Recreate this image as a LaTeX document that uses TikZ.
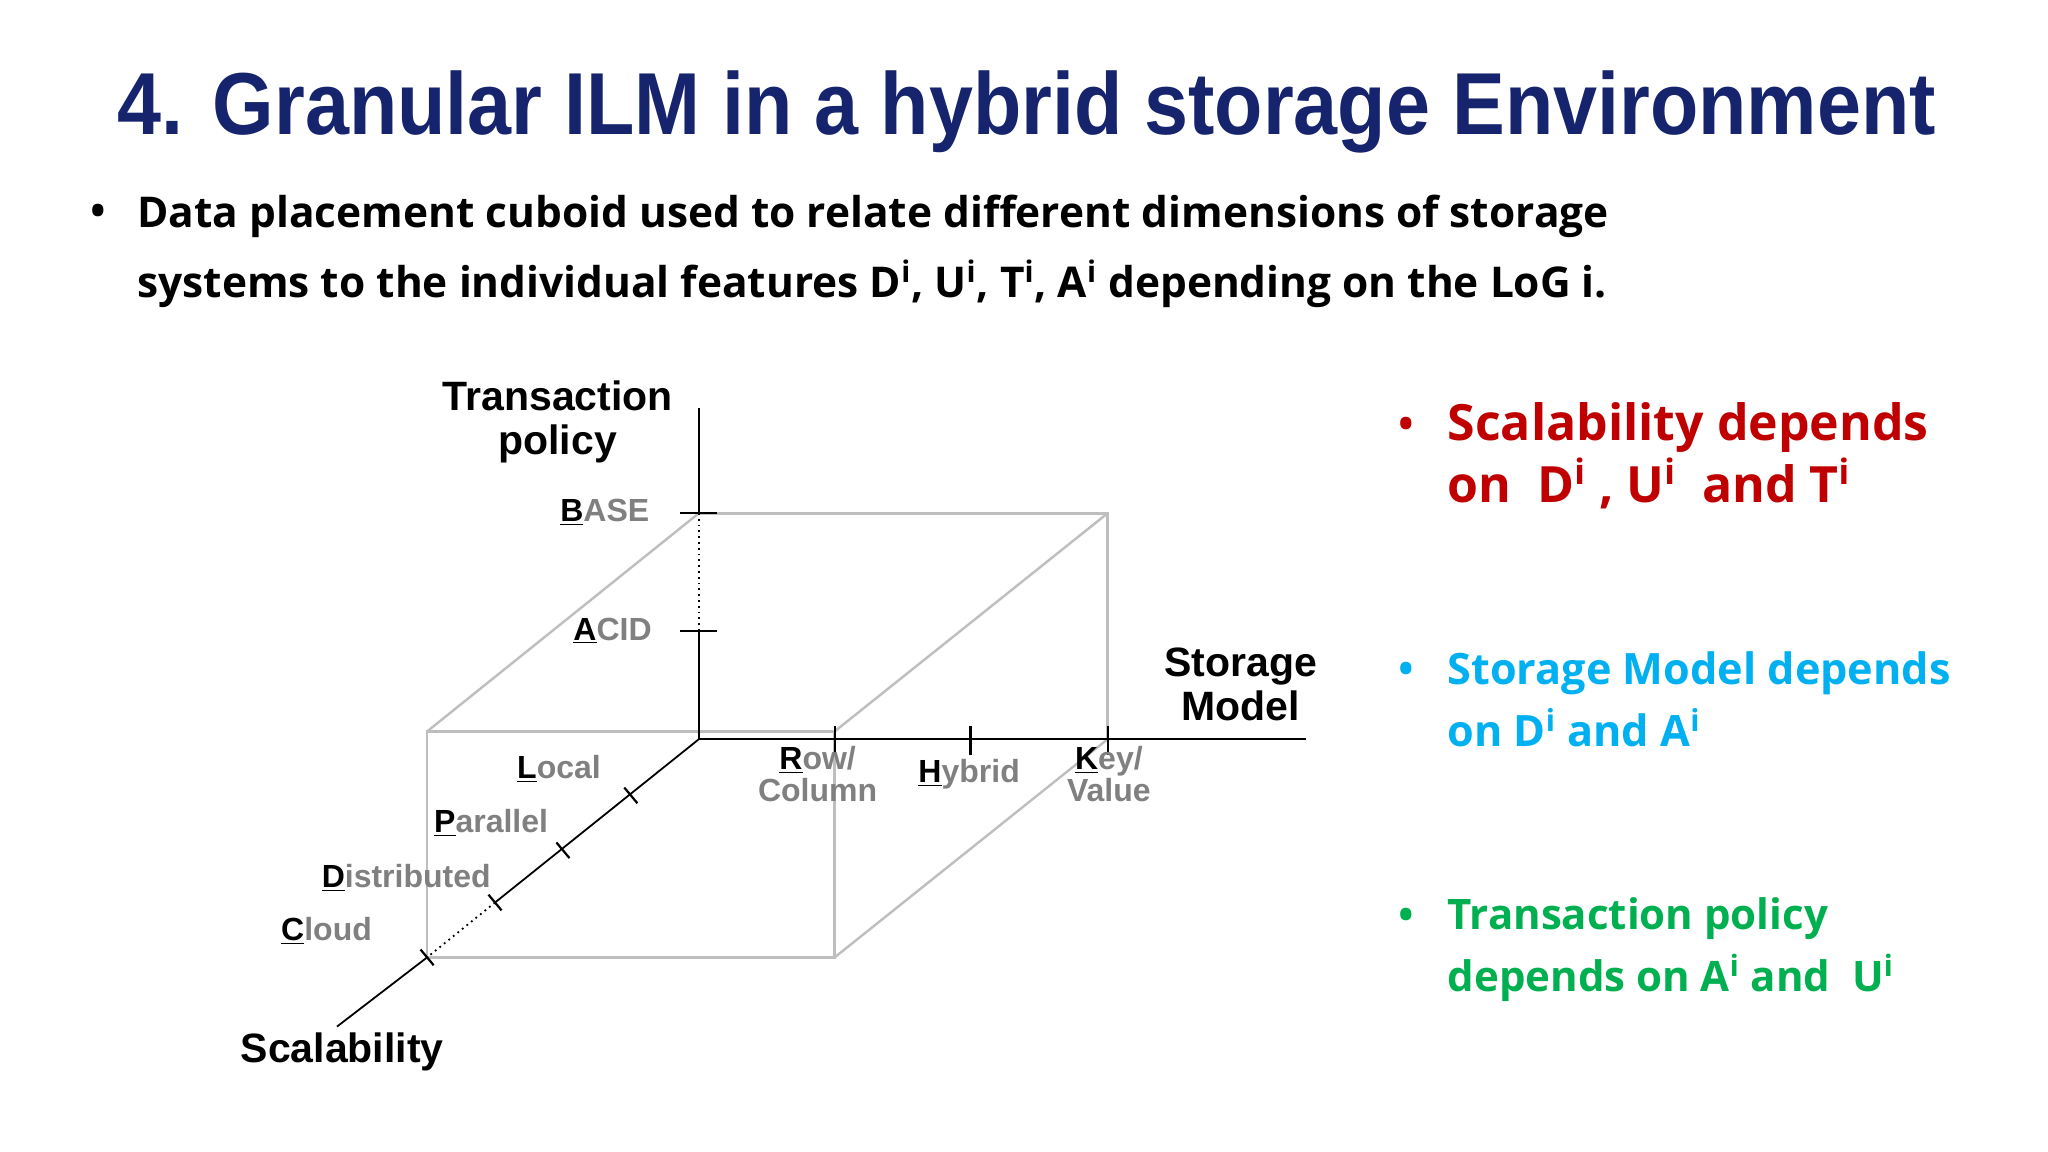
\documentclass[tikz,border=0pt]{standalone}
\usepackage{fontspec}
\setmainfont{Liberation Sans}
\newfontfamily\osans{Open Sans}
\definecolor{navy}{RGB}{22,36,110}
\definecolor{lgray}{RGB}{190,190,190}
\definecolor{tgray}{RGB}{128,128,128}
\definecolor{myred}{RGB}{192,0,0}
\definecolor{myblue}{RGB}{0,176,240}
\definecolor{mygreen}{RGB}{0,176,80}
\newcommand{\lblx}[2]{{\color{black}\underline{#1}}#2}
\begin{document}
\begin{tikzpicture}[x=0.653pt,y=-0.653pt,
  cube/.style={draw=lgray,line width=1.2pt},
  ax/.style={draw=black,line width=0.9pt},
  tick/.style={draw=black,line width=1.1pt},
  lab/.style={font=\fontsize{16}{16}\selectfont\bfseries,text=tgray,align=center,inner sep=0pt},
  axt/.style={font=\fontsize{20.5}{22}\selectfont\bfseries,align=center,inner sep=0pt},
  rt/.style={align=left,anchor=north west,inner sep=0pt},
  dot/.style={font=\osans\fontsize{26}{26}\selectfont}]
\useasboundingbox[fill=white] (0,0) rectangle (1568,882);
% title
\node[font=\fontsize{44}{50}\selectfont\bfseries,text=navy,inner sep=0pt] (title) at (786,86) {\resizebox{909pt}{\height}{4. Granular ILM in a hybrid storage Environment}};
% bullet text
\node[dot] (b0) at (75,166) {•};
\node[font=\osans\fontsize{21.2}{35}\selectfont\bfseries,align=left,anchor=north west,inner sep=0pt] (btext) at (105,149)
 {Data placement cuboid used to relate different dimensions of storage\\systems to the individual features D\textsuperscript{i}, U\textsuperscript{i}, T\textsuperscript{i}, A\textsuperscript{i} depending on the LoG i.};
% cube
\coordinate (O) at (535,566);
\coordinate (BTL) at (535,393); \coordinate (BTR) at (848,393); \coordinate (BBR) at (848,566);
\coordinate (FTL) at (327,560); \coordinate (FTR) at (639,560);
\coordinate (FBR) at (639,733); \coordinate (FBL) at (327,733);
\draw[cube] (FTL) rectangle (FBR);
\draw[cube] (BTL) -- (BTR) -- (BBR);
\draw[cube] (BTL) -- (FTL) (BTR) -- (FTR) (BBR) -- (FBR);
% axes
\coordinate (Vtop) at (535,312); \coordinate (Hend) at (1000,566); \coordinate (Send) at (258,786);
\coordinate (tA) at (535,483);
\draw[ax] (O) -- (tA);
\draw[ax,dotted] (tA) -- (BTL);
\draw[ax] (BTL) -- (Vtop);
\draw[ax] (O) -- (Hend);
\coordinate (s1) at (483,609); \coordinate (s2) at (431,651); \coordinate (s3) at (379,691); \coordinate (s4) at (327,733);
\draw[ax] (O) -- (s3);
\draw[ax,dotted] (s3) -- (s4);
\draw[ax] (s4) -- (Send);
% ticks
\foreach \p in {tA,BTL} \draw[tick] ([xshift=-14*0.653pt]\p) -- ([xshift=14*0.653pt]\p);
\foreach \xx in {639,743,848} \draw[tick] (\xx,556) -- (\xx,578);
\foreach \p in {s1,s2,s3,s4} \draw[tick] ([shift={(-5,-6)}]\p) -- ([shift={(5,6)}]\p);
% labels
\node[axt] (tp) at (427,323) {Transaction\\policy};
\node[axt] (sm) at (950,524) {Storage\\Model};
\node[axt] (sc) at (262,805) {Scalability};
\node[lab] (base) at (463,392) {\lblx{B}{ASE}};
\node[lab] (acid) at (469,483) {\lblx{A}{CID}};
\node[lab] (rc) at (626,593) {\lblx{R}{ow/}\\Column};
\node[lab] (hy) at (742,593) {\lblx{H}{ybrid}};
\node[lab] (kv) at (849,593) {\lblx{K}{ey/}\\Value};
\node[lab] (lo) at (428,589) {\lblx{L}{ocal}};
\node[lab] (pa) at (376,630) {\lblx{P}{arallel}};
\node[lab] (di) at (311,672) {\lblx{D}{istributed}};
\node[lab] (cl) at (250,713) {\lblx{C}{loud}};
% right column
\node[dot,text=myred] (r0) at (1077,329) {•};
\node[rt,text=myred,font=\osans\bfseries\fontsize{25}{31}\selectfont] (r1) at (1108,308) {Scalability depends\\on~ D\textsuperscript{i} , U\textsuperscript{i}~ and T\textsuperscript{i}};
\node[dot,text=myblue] (u0) at (1077,517) {•};
\node[rt,text=myblue,font=\osans\bfseries\fontsize{21.6}{31}\selectfont] (u1) at (1108,499) {Storage Model depends\\on D\textsuperscript{i} and A\textsuperscript{i}};
\node[dot,text=mygreen] (g0) at (1077,705) {•};
\node[rt,text=mygreen,font=\osans\bfseries\fontsize{21}{31}\selectfont] (g1) at (1108,687) {Transaction policy\\depends on A\textsuperscript{i} and~ U\textsuperscript{i}};
\end{tikzpicture}
\end{document}
